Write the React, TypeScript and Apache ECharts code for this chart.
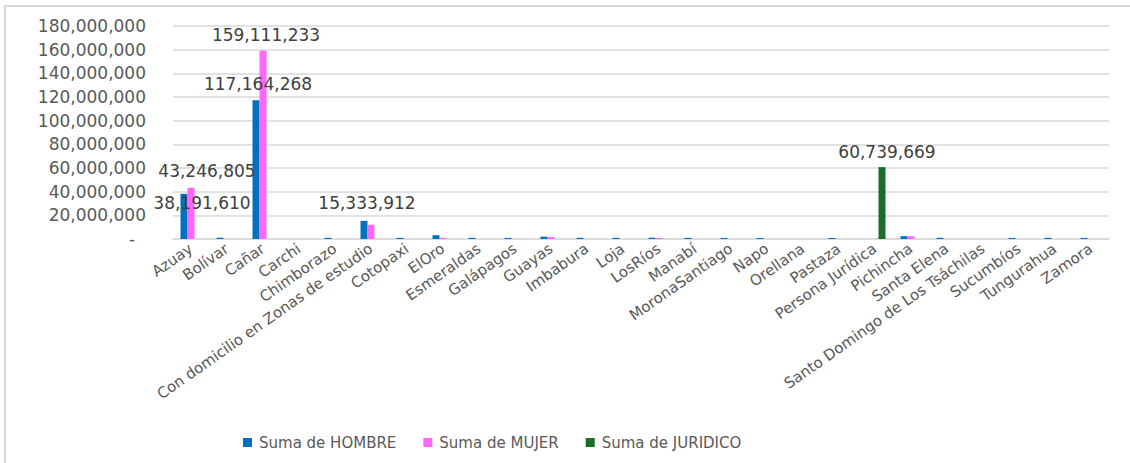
import React, { useEffect, useRef } from "react";
import * as echarts from "echarts";

const categories = [
  "Azuay", "Bolívar", "Cañar", "Carchi", "Chimborazo",
  "Con domicilio en Zonas de estudio", "Cotopaxi", "ElOro", "Esmeraldas",
  "Galápagos", "Guayas", "Imbabura", "Loja", "LosRíos", "Manabí",
  "MoronaSantiago", "Napo", "Orellana", "Pastaza", "Persona Jurídica",
  "Pichincha", "Santa Elena", "Santo Domingo de Los Tsáchilas", "Sucumbíos",
  "Tungurahua", "Zamora",
];

const hombre = [
  38191610, 1100000, 117164268, 0, 1000000,
  15333912, 1000000, 3200000, 1000000,
  900000, 2000000, 1000000, 1000000, 1100000, 1000000,
  900000, 900000, 0, 900000, 0,
  2400000, 1000000, 0, 900000,
  1000000, 900000,
];

const mujer = [
  43246805, 0, 159111233, 0, 0,
  12000000, 0, 1000000, 0,
  0, 1600000, 0, 0, 900000, 0,
  0, 0, 0, 0, 0,
  2300000, 0, 0, 0,
  0, 0,
];

const juridico = [
  0, 0, 0, 0, 0,
  0, 0, 0, 0,
  0, 0, 0, 0, 0, 0,
  0, 0, 0, 0, 60739669,
  0, 0, 0, 0,
  0, 0,
];

const seriesNames = ["Suma de HOMBRE", "Suma de MUJER", "Suma de JURIDICO"];
const yTicks = { min: 0, max: 180000000, interval: 20000000 };

// which points carry a data label, with label offsets [dx, dy]
const hombreLabels: Record<number, number[]> = { 0: [18, 23], 2: [2, -3], 5: [3, -4] };
const mujerLabels: Record<number, number[]> = { 0: [16, -3], 2: [3, -2] };
const juridicoLabels: Record<number, number[]> = { 19: [5, -2] };

const FONT = "DejaVu Sans";
const fmt = (v: number) => v.toLocaleString("en-US");

function build(values: number[], labels: Record<number, number[]>) {
  return values.map((v, i) =>
    labels[i]
      ? {
          value: v,
          label: {
            show: true,
            position: "top",
            offset: labels[i],
            formatter: (p: any) => fmt(p.value),
            fontFamily: FONT,
            fontSize: 17,
            color: "#404040",
          },
        }
      : v
  );
}

export default function App() {
  const ref = useRef<HTMLDivElement>(null);
  useEffect(() => {
    document.body.style.margin = "0";
    const chart = echarts.init(ref.current!, null, { renderer: "svg" });
    chart.setOption({
      animation: false,
      backgroundColor: "#ffffff",
      grid: {
        left: 173,
        right: 21,
        top: 26,
        bottom: 224,
        containLabel: false,
        outerBoundsMode: "none",
      },
      legend: {
        left: 238,
        top: 430,
        itemWidth: 9,
        itemHeight: 9,
        itemGap: 27,
        icon: "rect",
        textStyle: { fontFamily: FONT, fontSize: 15, color: "#595959", padding: [0, 0, 0, 2] },
        data: seriesNames,
      },
      xAxis: {
        type: "category",
        data: categories,
        axisTick: { show: false },
        axisLine: { lineStyle: { color: "#d9d9d9", width: 1.5 } },
        axisLabel: {
          interval: 0,
          rotate: 35,
          margin: 8,
          fontFamily: FONT,
          fontSize: 15,
          color: "#595959",
        },
      },
      yAxis: {
        type: "value",
        min: yTicks.min,
        max: yTicks.max,
        interval: yTicks.interval,
        axisLabel: {
          margin: 27,
          fontFamily: FONT,
          fontSize: 17,
          color: "#595959",
          formatter: (v: number) => (v === 0 ? "-  " : fmt(v)),
        },
        splitLine: { lineStyle: { color: "#d9d9d9", width: 1.5 } },
      },
      series: [
        {
          name: seriesNames[0],
          type: "bar",
          barWidth: 7,
          barGap: "0%",
          itemStyle: { color: "#0070c0" },
          data: build(hombre, hombreLabels),
        },
        {
          name: seriesNames[1],
          type: "bar",
          barWidth: 7,
          barGap: "0%",
          itemStyle: { color: "#ff66ff" },
          data: build(mujer, mujerLabels),
        },
        {
          name: seriesNames[2],
          type: "bar",
          barWidth: 7,
          barGap: "0%",
          itemStyle: { color: "#1a6e28" },
          data: build(juridico, juridicoLabels),
        },
      ],
      graphic: [
        { type: "line", shape: { x1: 4, y1: 6, x2: 1130, y2: 6 }, style: { stroke: "#d9d9d9", lineWidth: 2 } },
        { type: "line", shape: { x1: 5, y1: 6, x2: 5, y2: 463 }, style: { stroke: "#d9d9d9", lineWidth: 2 } },
      ],
    });
    return () => chart.dispose();
  }, []);
  return <div ref={ref} style={{ width: 1130, height: 463 }} />;
}
